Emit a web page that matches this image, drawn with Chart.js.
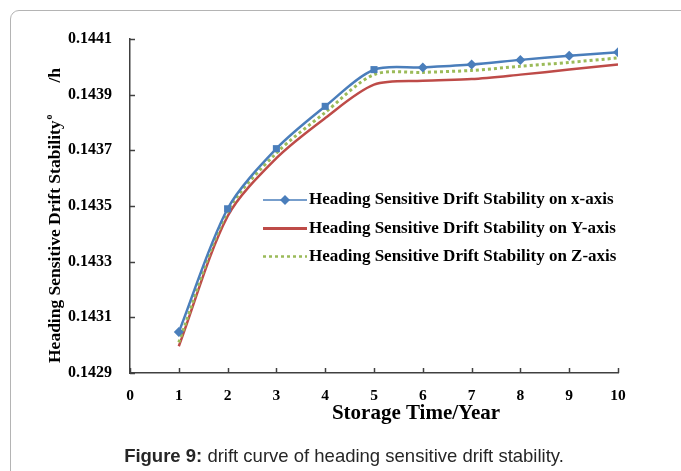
<!DOCTYPE html>
<html>
<head>
<meta charset="utf-8">
<script src="https://cdn.jsdelivr.net/npm/chart.js@4.4.0/dist/chart.umd.min.js"></script>
<style>
  html, body { margin: 0; padding: 0; background: #fff; }
  #wrap { position: relative; width: 681px; height: 471px; overflow: hidden; }
  #frame { position: absolute; left: 10px; top: 10px; width: 720px; height: 500px;
           border: 1px solid #b4b4b4; border-radius: 9px; box-sizing: border-box; }
  #c { position: absolute; left: 0; top: 0; }
  #caption { position: absolute; left: 0; width: 688px; top: 446px; line-height: 20px; text-align: center;
             font-family: "Liberation Sans", Arial, sans-serif; font-size: 18.5px; color: #262626; }
</style>
</head>
<body>
<div id="wrap">
  <div id="frame"></div>
  <canvas id="c" width="681" height="471"></canvas>
  <div id="caption"><b>Figure 9:</b> drift curve of heading sensitive drift stability.</div>
</div>
<script>
// ---- data ----
const years = [1, 2, 3, 4, 5, 6, 7, 8, 9, 10];
const xAxisDrift = [0.143047, 0.143490, 0.143706, 0.143858, 0.143990, 0.143998, 0.144008, 0.144025, 0.144040, 0.144052];
const yAxisDrift = [0.142996, 0.143463, 0.143672, 0.143816, 0.143936, 0.143950, 0.143956, 0.143972, 0.143990, 0.144008];
const zAxisDrift = [0.143010, 0.143480, 0.143690, 0.143836, 0.143972, 0.143980, 0.143987, 0.144002, 0.144016, 0.144032];
const seriesLabels = [
  "Heading Sensitive Drift Stability on x-axis",
  "Heading Sensitive Drift Stability on Y-axis",
  "Heading Sensitive Drift Stability on Z-axis"
];
const xTicks = [0, 1, 2, 3, 4, 5, 6, 7, 8, 9, 10];
const yTicks = [0.1429, 0.1431, 0.1433, 0.1435, 0.1437, 0.1439, 0.1441];
const xTitle = "Storage Time/Year";
const yTitleMain = "Heading Sensitive Drift Stability";
const yTitleSup = "o";
const yTitleUnit = "/h";

const SERIF = "'Liberation Serif', 'Times New Roman', serif";
const blueMarkerStyles = ['rectRot', 'rect', 'rect', 'rect', 'rect', 'rectRot', 'rectRot', 'rectRot', 'rectRot', 'rectRot'];

function pts(vals) { return years.map((x, i) => ({ x: x, y: vals[i] })); }

const axisPlugin = {
  id: 'axisDeco',
  afterDraw(chart) {
    const ctx = chart.ctx;
    const xs = chart.scales.x, ys = chart.scales.y;
    const ca = chart.chartArea;
    ctx.save();
    ctx.strokeStyle = '#404040';
    ctx.lineWidth = 1.5;
    // inner tick marks
    xs.ticks.forEach((t, i) => {
      const px = Math.round(xs.getPixelForTick(i)) + 0.5;
      ctx.beginPath(); ctx.moveTo(px, ca.bottom); ctx.lineTo(px, ca.bottom - 5); ctx.stroke();
    });
    ys.ticks.forEach((t, i) => {
      const py = Math.round(ys.getPixelForTick(i)) + 0.5;
      ctx.beginPath(); ctx.moveTo(ca.left, py); ctx.lineTo(ca.left + 5, py); ctx.stroke();
    });
    // axis titles
    ctx.fillStyle = '#000';
    ctx.font = 'bold 21px ' + SERIF;
    ctx.textAlign = 'center';
    ctx.textBaseline = 'middle';
    ctx.fillText(xTitle, 416, 414);

    ctx.translate(55, 363);
    ctx.rotate(-Math.PI / 2);
    ctx.textAlign = 'left';
    ctx.font = 'bold 17.5px ' + SERIF;
    ctx.fillText(yTitleMain, 0, 0);
    const w = ctx.measureText(yTitleMain).width;
    ctx.font = 'bold 10px ' + SERIF;
    ctx.fillText(yTitleSup, w + 1, -6);
    ctx.font = 'bold 17.5px ' + SERIF;
    ctx.textAlign = 'right';
    ctx.fillText(yTitleUnit, 295, 0);
    ctx.restore();

    // legend
    const rows = [200, 228.5, 256.5];
    ctx.save();
    chart.data.datasets.forEach((ds, i) => {
      const y = rows[i];
      ctx.strokeStyle = ds.borderColor;
      ctx.lineWidth = ds.legendWidth;
      ctx.setLineDash(ds.borderDash || []);
      ctx.beginPath(); ctx.moveTo(263, y); ctx.lineTo(307, y); ctx.stroke();
      ctx.setLineDash([]);
      if (ds.legendMarker) {
        ctx.fillStyle = ds.borderColor;
        ctx.beginPath();
        ctx.moveTo(285, y - 5); ctx.lineTo(290, y); ctx.lineTo(285, y + 5); ctx.lineTo(280, y);
        ctx.closePath(); ctx.fill();
      }
      ctx.fillStyle = '#000';
      ctx.font = 'bold 17px ' + SERIF;
      ctx.textAlign = 'left';
      ctx.textBaseline = 'middle';
      ctx.fillText(ds.label, 309, y);
    });
    ctx.restore();
  }
};

new Chart(document.getElementById('c'), {
  type: 'line',
  data: {
    datasets: [
      {
        label: seriesLabels[0], data: pts(xAxisDrift),
        borderColor: '#4a7ebb', backgroundColor: '#4a7ebb', borderWidth: 2.5,
        pointStyle: blueMarkerStyles, pointRadius: 5, pointBorderWidth: 0,
        tension: 0.3, legendWidth: 1.5, legendMarker: true, order: 0
      },
      {
        label: seriesLabels[1], data: pts(yAxisDrift),
        borderColor: '#be4b48', backgroundColor: '#be4b48', borderWidth: 2.5,
        pointRadius: 0, tension: 0.3, legendWidth: 3, order: 2
      },
      {
        label: seriesLabels[2], data: pts(zAxisDrift),
        borderColor: '#9bbb59', backgroundColor: '#9bbb59', borderWidth: 3,
        borderDash: [3, 3], pointRadius: 0, tension: 0.3, legendWidth: 2.5, order: 1
      }
    ]
  },
  options: {
    responsive: false,
    animation: false,
    layout: { padding: { top: 39, right: 63, bottom: 0, left: 0 } },
    plugins: { legend: { display: false }, tooltip: { enabled: false } },
    scales: {
      x: {
        type: 'linear', min: 0, max: 10,
        afterBuildTicks: s => { s.ticks = xTicks.map(v => ({ value: v })); },
        afterFit: s => { s.height = 98; },
        grid: { display: false, drawTicks: false },
        border: { display: true, color: '#404040', width: 1.5 },
        ticks: { padding: 14, color: '#000', font: { family: SERIF, size: 15.5, weight: 'bold' },
                 callback: v => String(v), maxRotation: 0 }
      },
      y: {
        type: 'linear', min: 0.1429, max: 0.1441,
        afterBuildTicks: s => { s.ticks = yTicks.map(v => ({ value: v })); },
        afterFit: s => { s.width = 130; },
        grid: { display: false, drawTicks: false },
        border: { display: true, color: '#404040', width: 1.5 },
        ticks: { padding: 18, color: '#000', font: { family: SERIF, size: 16, weight: 'bold' },
                 callback: v => Number(v).toFixed(4) }
      }
    }
  },
  plugins: [axisPlugin]
});
</script>
</body>
</html>
